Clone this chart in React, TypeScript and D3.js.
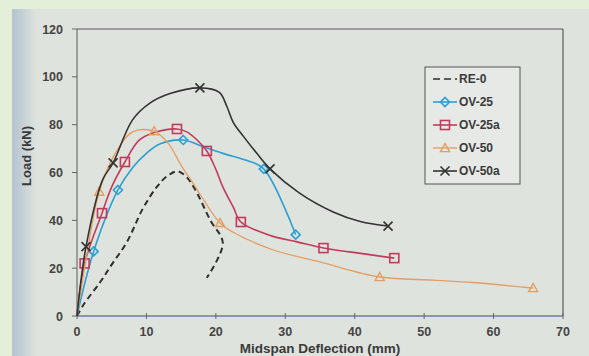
import * as d3 from 'd3'

// deflection (mm), load (kN)
const re0: [number, number][] = [
  [0, 0], [1, 5], [3.3, 14], [5, 21.5], [7.2, 31], [9.5, 45], [11.5, 54], [13, 58.5],
  [14.5, 60.5], [15.8, 58], [17, 53], [19.2, 40], [21, 30.5], [18.7, 16],
]
const ov25: [number, number][] = [
  [0, 0], [2.4, 27], [5.9, 52.7], [8, 62], [10, 68], [12, 72], [15.3, 73.6], [18, 71],
  [21, 68], [24.5, 65], [26.9, 61.5], [31.5, 34],
]
const ov25a: [number, number][] = [
  [0, 0], [1.1, 22], [3.6, 43], [5, 54], [6.9, 64.4], [9, 73.6], [11.5, 77], [14.4, 78.2],
  [15.8, 77], [17.3, 73.6], [18.7, 69], [19.9, 62], [21, 54], [22.5, 45.6], [23.6, 39.3],
  [28, 33.5], [31.7, 31], [35.5, 28.4], [39.3, 26.8], [45.7, 24.2],
]
const ov50: [number, number][] = [
  [0, 0], [1.5, 27], [3.2, 52], [5.5, 68], [8, 77], [11.1, 77.3], [13.2, 72], [15, 63],
  [16.7, 55.6], [20.6, 38.9], [22.5, 35], [28.3, 27.6], [35, 22.6], [43.6, 16.3],
  [51.3, 15], [57, 14], [65.7, 11.7],
]
const ov50a: [number, number][] = [
  [0, 0], [1.3, 29], [3.7, 57], [5.2, 64], [8, 82], [10.5, 89], [13.4, 93], [17.7, 95.4],
  [20.5, 93.5], [21.6, 87.5], [22.5, 81], [24, 75], [25.9, 68], [27.8, 61.5], [32, 51.5],
  [36.9, 43.5], [40.8, 39.5], [44.8, 37.6],
]
// which points carry a marker
const ov25Marks = [1, 2, 6, 10, 11]
const ov25aMarks = [1, 2, 4, 7, 10, 14, 17, 19]
const ov50Marks = [2, 5, 9, 13, 16]
const ov50aMarks = [1, 3, 7, 13, 17]

const xTicks = [0, 10, 20, 30, 40, 50, 60, 70]
const yTicks = [0, 20, 40, 60, 80, 100, 120]

type Marker = 'none' | 'diamond' | 'square' | 'triangle' | 'cross'
interface Series {
  name: string
  pts: [number, number][]
  marks: number[]
  color: string
  width: number
  dash?: string
  marker: Marker
}

const series: Series[] = [
  { name: 'RE-0', pts: re0, marks: [], color: '#2e2e2e', width: 2, dash: '6,4', marker: 'none' },
  { name: 'OV-25', pts: ov25, marks: ov25Marks, color: '#2c9fd2', width: 1.6, marker: 'diamond' },
  { name: 'OV-25a', pts: ov25a, marks: ov25aMarks, color: '#c23a5c', width: 1.6, marker: 'square' },
  { name: 'OV-50', pts: ov50, marks: ov50Marks, color: '#e49d62', width: 1.3, marker: 'triangle' },
  { name: 'OV-50a', pts: ov50a, marks: ov50aMarks, color: '#333333', width: 1.6, marker: 'cross' },
]

const font = '"Liberation Sans", Arial, sans-serif'

function MarkerShape({ kind, cx, cy, color }: { kind: Marker; cx: number; cy: number; color: string }) {
  const s = 4.5
  if (kind === 'diamond')
    return <path d={`M${cx},${cy - s}L${cx + s},${cy}L${cx},${cy + s}L${cx - s},${cy}Z`} fill="none" stroke={color} strokeWidth={1.6} />
  if (kind === 'square')
    return <rect x={cx - s} y={cy - s} width={2 * s} height={2 * s} fill="none" stroke={color} strokeWidth={1.6} />
  if (kind === 'triangle')
    return <path d={`M${cx},${cy - s}L${cx + s},${cy + s * 0.8}L${cx - s},${cy + s * 0.8}Z`} fill="none" stroke={color} strokeWidth={1.4} />
  if (kind === 'cross')
    return <path d={`M${cx - s},${cy - s}L${cx + s},${cy + s}M${cx + s},${cy - s}L${cx - s},${cy + s}`} stroke={color} strokeWidth={1.6} />
  return null
}

export default function App() {
  const W = 589, H = 356
  const x = d3.scaleLinear().domain([0, 70]).range([77, 563])
  const y = d3.scaleLinear().domain([0, 120]).range([316, 29])
  const line = d3.line<[number, number]>()
    .x(d => x(d[0]))
    .y(d => y(d[1]))
    .curve(d3.curveCatmullRom.alpha(0.5))

  const lg = { x: 425, y: 67, w: 95, h: 117 }

  return (
    <svg width={W} height={H} style={{ position: 'absolute', left: 0, top: 0 }}>
      <defs>
        <linearGradient id="edge" x1="0" x2="1" y1="0" y2="0">
          <stop offset="0" stopColor="#b3c3d1" />
          <stop offset="1" stopColor="#dde2dc" />
        </linearGradient>
      </defs>
      <rect width={W} height={H} fill="#e3efd9" />
      <rect x={12} y={9} width={W - 12} height={H - 9} fill="#dfe3dd" />
      <rect x={12} y={9} width={24} height={H - 9} fill="url(#edge)" />

      {/* frame */}
      <line x1={x(0)} x2={x(70)} y1={y(120)} y2={y(120)} stroke="#5a5a5a" strokeWidth={1.2} />
      <line x1={x(70)} x2={x(70)} y1={y(120)} y2={y(0)} stroke="#5a5a5a" strokeWidth={1.2} />
      <line x1={x(0)} x2={x(0)} y1={y(120)} y2={y(0)} stroke="#707070" strokeWidth={1.2} />
      <line x1={x(0)} x2={x(70)} y1={y(0)} y2={y(0)} stroke="#6c7aa0" strokeWidth={1.4} />

      {yTicks.map(t => (
        <g key={'y' + t}>
          <line x1={x(0) - 5} x2={x(0)} y1={y(t)} y2={y(t)} stroke="#666" strokeWidth={1} />
          <text x={63} y={y(t)} dy="0.36em" textAnchor="end" fontFamily={font} fontWeight="bold" fontSize={12.5} fill="#444">{t}</text>
        </g>
      ))}
      {xTicks.map(t => (
        <g key={'x' + t}>
          <line x1={x(t)} x2={x(t)} y1={y(0) - 3} y2={y(0) + 3} stroke="#666" strokeWidth={1} />
          <text x={x(t)} y={336} textAnchor="middle" fontFamily={font} fontWeight="bold" fontSize={12.5} fill="#444">{t}</text>
        </g>
      ))}

      <text x={320} y={353} textAnchor="middle" fontFamily={font} fontWeight="bold" fontSize={13.5} fill="#3a3a3a">Midspan Deflection (mm)</text>
      <text transform="translate(31,156) rotate(-90)" textAnchor="middle" fontFamily={font} fontWeight="bold" fontSize={13} fill="#3a3a3a">Load (kN)</text>

      {series.map(s => (
        <g key={s.name}>
          <path d={line(s.pts) ?? ''} fill="none" stroke={s.color} strokeWidth={s.width} strokeDasharray={s.dash} />
          {s.marks.map(i => (
            <MarkerShape key={i} kind={s.marker} cx={x(s.pts[i][0])} cy={y(s.pts[i][1])} color={s.color} />
          ))}
        </g>
      ))}

      {/* legend */}
      <rect x={lg.x} y={lg.y} width={lg.w} height={lg.h} fill="#e6e9e5" stroke="#555" strokeWidth={1} />
      {series.map((s, i) => {
        const cy = 79 + i * 23
        return (
          <g key={'lg' + s.name}>
            <line x1={433} x2={457} y1={cy} y2={cy} stroke={s.color} strokeWidth={s.dash ? 1.6 : s.width} strokeDasharray={s.dash ? '7,4' : undefined} />
            <MarkerShape kind={s.marker} cx={445} cy={cy} color={s.color} />
            <text x={459} y={cy} dy="0.36em" fontFamily={font} fontWeight="bold" fontSize={12} fill="#3a3a3a">{s.name}</text>
          </g>
        )
      })}
    </svg>
  )
}
